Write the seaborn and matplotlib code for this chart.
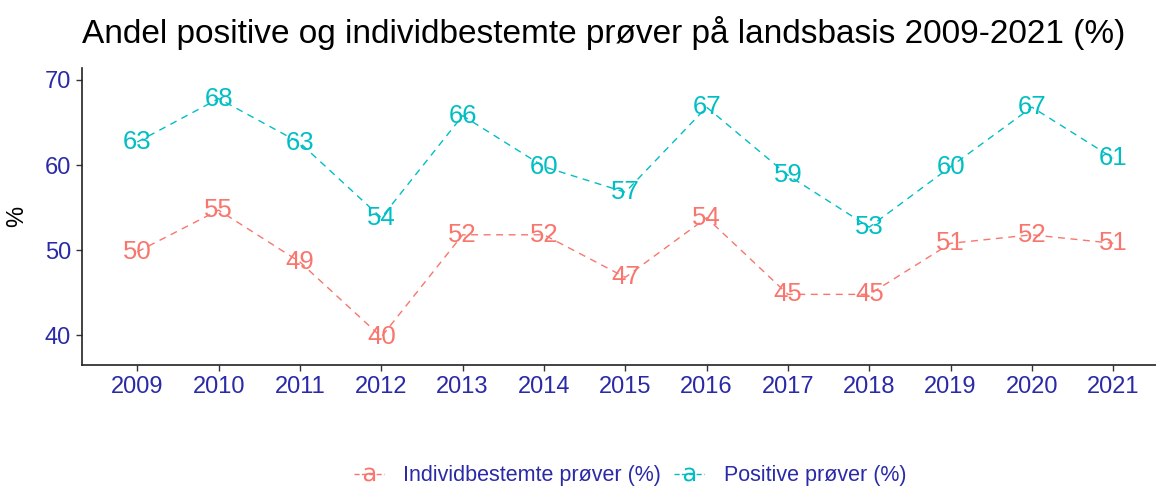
import matplotlib
matplotlib.use("Agg")
import matplotlib.pyplot as plt
from matplotlib.lines import Line2D
import seaborn as sns
import pandas as pd

years = [2009, 2010, 2011, 2012, 2013, 2014, 2015, 2016, 2017, 2018, 2019, 2020, 2021]
positive = [62.7, 67.8, 62.6, 53.8, 65.8, 59.8, 56.8, 66.8, 58.8, 52.7, 59.8, 66.8, 60.8]
individ = [49.8, 54.7, 48.6, 39.8, 51.8, 51.8, 46.8, 53.8, 44.8, 44.8, 50.8, 51.8, 50.8]
series_names = ["Individbestemte prøver (%)", "Positive prøver (%)"]
title = "Andel positive og individbestemte prøver på landsbasis 2009-2021 (%)"

colors = ["#F8766D", "#00BFC4"]
tick_color = "#2A2AA8"

sns.set_theme(style="white")
plt.rcParams["font.family"] = ["Liberation Sans", "DejaVu Sans"]

df = pd.DataFrame({
    "year": years * 2,
    "value": individ + positive,
    "series": [series_names[0]] * len(years) + [series_names[1]] * len(years),
})

W, H = 1156, 488
fig = plt.figure(figsize=(W / 100, H / 100), dpi=100)
ax = fig.add_axes([82 / W, 1 - 365 / H, (W - 82) / W, (365 - 68) / H])

sns.lineplot(data=df, x="year", y="value", hue="series", palette=colors,
             hue_order=series_names, ax=ax, linewidth=1.0, legend=False)
for line in ax.lines:
    line.set_linestyle((0, (5, 4)))

for vals, c in zip([individ, positive], colors):
    for x, v in zip(years, vals):
        ax.text(x, v, f"{round(v):.0f}", color=c, ha="center", va="center",
                fontsize=18.5, zorder=5)

x0 = 2009 - 0.68
ax.set_xlim(x0, x0 + (W - 82) / 81.33)
ax.set_ylim(36.5, 71.4)
ax.set_xticks(years)
ax.set_xticklabels([str(y) for y in years])
ax.set_yticks([40, 50, 60, 70])
ax.tick_params(axis="both", colors="#333333", labelcolor=tick_color, labelsize=17,
               length=4, width=1, direction="out", bottom=True, left=True, pad=4)
ax.set_xlabel("")
ax.set_ylabel("%", fontsize=17, color="black", labelpad=12)
for s in ["top", "right"]:
    ax.spines[s].set_visible(False)
for s in ["left", "bottom"]:
    ax.spines[s].set_color("#222222")
    ax.spines[s].set_linewidth(1.2)

fig.text(82 / W, 1 - 33 / H, title, fontsize=24, color="black", va="center", ha="left")

handles = [Line2D([0], [0], color=c, linestyle="--", linewidth=1.0,
                  marker=r"$\mathrm{a}$", markersize=10, markeredgewidth=0)
           for c in colors]
leg = fig.legend(handles, series_names, loc="center", bbox_to_anchor=(630 / W, 1 - 476 / H),
                 ncol=2, frameon=False, fontsize=15.5, handlelength=1.4,
                 columnspacing=0.6, handletextpad=0.9)
for t in leg.get_texts():
    t.set_color(tick_color)

fig.savefig("out.png", dpi=100)
